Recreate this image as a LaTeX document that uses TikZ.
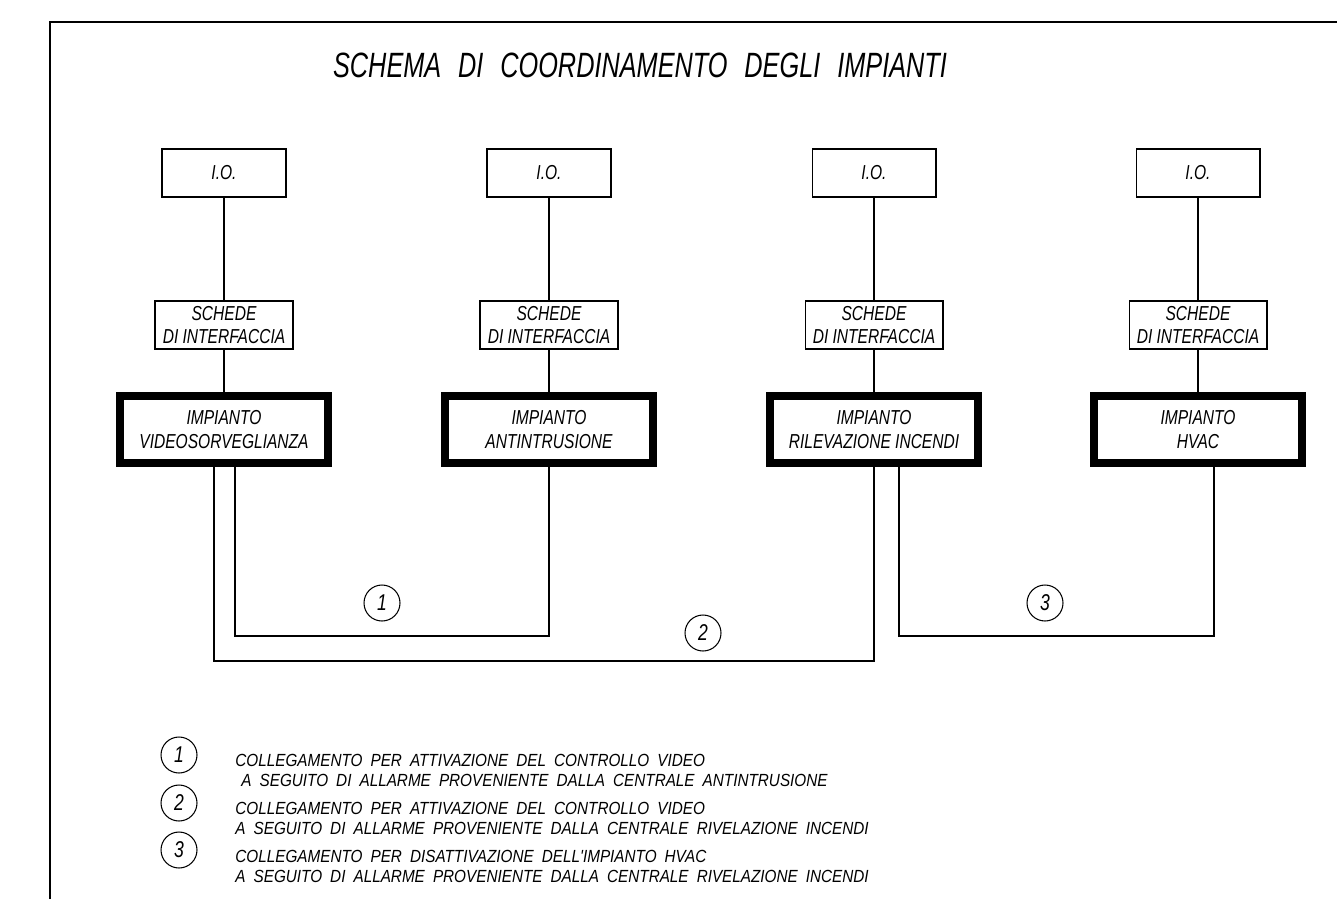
\documentclass[tikz,border=0pt]{standalone}
\usepackage{fontspec}
\setmainfont{Liberation Sans}
\newfontfamily\cadfont{Liberation Sans}[FakeStretch=0.77]
\newfontfamily\titlefont{Liberation Sans}[FakeStretch=0.72, WordSpace=2.4]
\newfontfamily\legfont{Liberation Sans}[FakeStretch=0.87, WordSpace=1.9]
\usetikzlibrary{positioning}

\begin{document}
\begin{tikzpicture}[x=0.02cm, y=-0.02cm, line width=0.6pt,
        every node/.style={font=\cadfont\itshape\fontsize{11.5}{13.6}\selectfont, align=center},
        iobox/.style={rectangle, draw, minimum width=2.48cm, minimum height=0.96cm},
        schedabox/.style={rectangle, draw, minimum width=2.76cm, minimum height=0.96cm, inner sep=0.5pt},
        impbox/.style={rectangle, draw, line width=0.16cm, minimum width=4.16cm, minimum height=1.34cm, inner sep=1pt},
        numcirc/.style={circle, draw, minimum size=0.72cm, inner sep=0pt, font=\cadfont\itshape\fontsize{13}{13}\selectfont},
        legtext/.style={anchor=base west, align=left, font=\legfont\itshape\fontsize{10}{11.3}\selectfont}]
        \useasboundingbox (0,0) rectangle (1337,899);
        % Frame
        \draw (50,899) |- (1337,22);
        \node[anchor=base, font=\titlefont\itshape\fontsize{20}{22}\selectfont] (title) at (640,77) {SCHEMA DI COORDINAMENTO DEGLI IMPIANTI};
        % I.O. boxes
        \node[iobox] (io1) at (224,173) {I.O.};
        \node[iobox] (io2) at (549,173) {I.O.};
        \node[iobox] (io3) at (874,173) {I.O.};
        \node[iobox] (io4) at (1198,173) {I.O.};
        % Interface boards
        \node[schedabox] (sch1) at (224,325) {SCHEDE\\DI INTERFACCIA};
        \node[schedabox] (sch2) at (549,325) {SCHEDE\\DI INTERFACCIA};
        \node[schedabox] (sch3) at (874,325) {SCHEDE\\DI INTERFACCIA};
        \node[schedabox] (sch4) at (1198,325) {SCHEDE\\DI INTERFACCIA};
        % Systems
        \node[impbox] (impVideo) at (224,429.5) {IMPIANTO\\VIDEOSORVEGLIANZA};
        \node[impbox] (impIntr) at (549,429.5) {IMPIANTO\\ANTINTRUSIONE};
        \node[impbox] (impInc) at (874,429.5) {IMPIANTO\\RILEVAZIONE INCENDI};
        \node[impbox] (impHvac) at (1198,429.5) {IMPIANTO\\HVAC};
        % Vertical links
        \draw (io1) -- (sch1);
        \draw (io2) -- (sch2);
        \draw (io3) -- (sch3);
        \draw (io4) -- (sch4);
        \draw (sch1) -- (impVideo);
        \draw (sch2) -- (impIntr);
        \draw (sch3) -- (impInc);
        \draw (sch4) -- (impHvac);
        % Coordination links
        \draw (impVideo.south -| 235,0) |- (impIntr.south |- 0,636) -- (impIntr.south);
        \draw (impVideo.south -| 214,0) |- (impInc.south |- 0,661) -- (impInc.south);
        \draw (impInc.south -| 899,0) |- (1214,636) -- (impHvac.south -| 1214,0);
        \node[numcirc] (c1) at (382,603) {1};
        \node[numcirc] (c2) at (703,633) {2};
        \node[numcirc] (c3) at (1045,603) {3};
        % Legend
        \node[numcirc] (l1) at (179,755) {1};
        \node[numcirc] (l2) at (179,803) {2};
        \node[numcirc] (l3) at (179,850) {3};
        \node[legtext] (leg1a) at (229,766) {COLLEGAMENTO PER ATTIVAZIONE DEL CONTROLLO VIDEO};
        \node[legtext] (leg1b) at (235,786) {A SEGUITO DI ALLARME PROVENIENTE DALLA CENTRALE ANTINTRUSIONE};
        \node[legtext] (leg2a) at (229,814) {COLLEGAMENTO PER ATTIVAZIONE DEL CONTROLLO VIDEO};
        \node[legtext] (leg2b) at (229,834) {A SEGUITO DI ALLARME PROVENIENTE DALLA CENTRALE RIVELAZIONE INCENDI};
        \node[legtext] (leg3a) at (229,862) {COLLEGAMENTO PER DISATTIVAZIONE DELL'IMPIANTO HVAC};
        \node[legtext] (leg3b) at (229,882) {A SEGUITO DI ALLARME PROVENIENTE DALLA CENTRALE RIVELAZIONE INCENDI};
    \end{tikzpicture}
\end{document}
